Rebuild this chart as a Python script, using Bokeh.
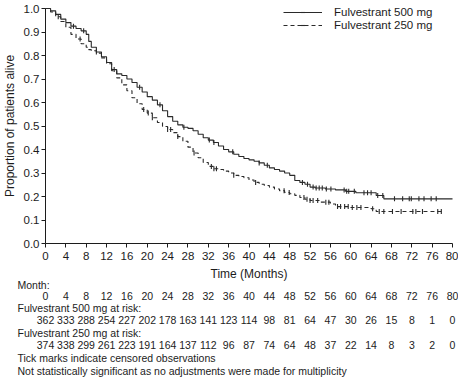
import numpy as np
from bokeh.plotting import figure
from bokeh.models import Range1d, FixedTicker, PrintfTickFormatter, Legend, LegendItem
from bokeh.embed import file_html
from bokeh.resources import INLINE
from bokeh.core.properties import value

# ---------------- data ----------------
t500 = [0, 1, 2, 3, 4, 5, 6, 7, 8, 8.5, 9, 10, 11, 12, 13, 14, 15, 16, 17, 18, 19, 20,
        21, 22, 23, 24, 25, 26, 27, 28, 29, 30, 31, 32, 33, 34, 35, 36, 37, 38, 39, 40,
        41, 42, 43, 44, 45, 46, 47, 48, 49, 50, 51, 52, 53, 55, 57, 59, 61, 65, 66.5]
s500 = [1.0, 0.99, 0.975, 0.955, 0.94, 0.925, 0.915, 0.905, 0.89, 0.86,
        0.835, 0.815, 0.795, 0.77, 0.74, 0.722, 0.715, 0.70, 0.685, 0.665, 0.645, 0.625,
        0.61, 0.59, 0.565, 0.54, 0.52, 0.505, 0.495, 0.49, 0.48, 0.465, 0.45, 0.44, 0.43,
        0.415, 0.40, 0.39, 0.38, 0.37, 0.362, 0.356, 0.35, 0.343, 0.333, 0.322, 0.315,
        0.308, 0.30, 0.29, 0.268, 0.26, 0.252, 0.24, 0.236,
        0.232, 0.228, 0.222, 0.216, 0.204, 0.19]
last500 = 80.0

t250 = [0, 1, 2, 3, 4, 5, 6, 7, 8, 8.5, 9, 10, 11, 12, 13, 14, 15, 16, 17, 18, 19, 20,
        21, 22, 23, 24, 25, 26, 27, 28, 29, 30, 31, 32, 33, 34, 35, 36, 37, 38, 39, 40,
        41, 42, 43, 44, 45, 46, 47, 48, 49, 50, 51, 52, 54, 56, 57, 60, 64, 65]
s250 = [1.0, 0.985, 0.965, 0.945, 0.92, 0.89, 0.87, 0.85, 0.835, 0.825,
        0.82, 0.81, 0.79, 0.765, 0.735, 0.705, 0.675, 0.65, 0.62, 0.595, 0.57, 0.555,
        0.535, 0.515, 0.498, 0.485, 0.472, 0.455, 0.435, 0.41, 0.385, 0.365, 0.345, 0.328,
        0.318, 0.315, 0.308, 0.30, 0.29, 0.285, 0.28, 0.27, 0.26, 0.252, 0.247, 0.24,
        0.232, 0.225, 0.217, 0.212, 0.205, 0.196, 0.188, 0.183,
        0.176, 0.168, 0.157, 0.153, 0.148, 0.136]
last250 = 78.2

cens500 = [5.5, 7.5, 10, 13.5, 18.5, 22.5, 27.2, 32.2, 33.1, 36.8, 42.0, 43.6, 50.5, 51.5,
           52.6, 53.2, 53.8, 54.4, 55.2, 56.1, 58.7, 59.2, 59.6, 60.7, 62.6, 63.3, 64.0,
           65.3, 66.3, 68.6, 70.2, 71.5, 71.9, 73.4, 74.4, 75.8, 76.8]
cens250 = [2.5, 6.8, 19.3, 20.2, 21.0, 24.0, 24.6, 26.0, 29.2, 32.6, 33.1, 33.6, 37.0,
           41.3, 46.9, 47.9, 50.8, 51.4, 52.0, 52.6, 53.5, 55.1, 55.7, 57.4, 58.0, 58.8,
           59.5, 60.3, 61.2, 62.0, 64.3, 65.6, 66.5, 68.2, 69.9, 72.2, 72.8, 74.1, 77.1, 77.8]

months = list(range(0, 81, 4))
risk500 = [362, 333, 288, 254, 227, 202, 178, 163, 141, 123, 114, 98, 81, 64, 47, 30, 26, 15, 8, 1, 0]
risk250 = [374, 338, 299, 261, 223, 191, 164, 137, 112, 96, 87, 74, 64, 48, 37, 22, 14, 8, 3, 2, 0]

label500 = "Fulvestrant 500 mg"
label250 = "Fulvestrant 250 mg"
x_title = "Time (Months)"
y_title = "Proportion of patients alive"
row_titles = ["Month:", "Fulvestrant 500 mg at risk:", "Fulvestrant 250 mg at risk:",
              "Tick marks indicate censored observations",
              "Not statistically significant as no adjustments were made for multiplicity"]

# ---------------- style / layout (pixels inside the canvas) ----------------
FONT = "Liberation Sans"
INK = "#1c1c1c"
LINE = "#2a2a2a"
W, H = 458, 378
X0_PX, X80_PX = 45, 452        # canvas x of month 0 and month 80
Y0_PX, Y1_PX = 243, 8          # canvas y of proportion 0 and 1
XMAX = 80.0
pxpm = (X80_PX - X0_PX) / XMAX
pxpu = (Y0_PX - Y1_PX) / 1.0

x_range = Range1d(-X0_PX / pxpm, (W - X0_PX) / pxpm)
y_range = Range1d(-(H - Y0_PX) / pxpu, Y0_PX / pxpu)

p = figure(width=W, height=H, x_range=x_range, y_range=y_range, title=None,
           output_backend="svg", toolbar_location=None, min_border=0,
           min_border_left=0, min_border_right=0, min_border_top=0, min_border_bottom=0)
p.outline_line_color = None
p.grid.visible = False
p.background_fill_color = "white"
p.border_fill_color = "white"

for ax in (p.xaxis[0], p.yaxis[0]):
    ax.fixed_location = 0
    ax.axis_line_color = INK
    ax.major_tick_line_color = INK
    ax.major_tick_in = 0
    ax.major_tick_out = 4
    ax.minor_tick_line_color = None
    ax.major_label_text_font = FONT
    ax.major_label_text_font_size = "11.5px"
    ax.major_label_text_color = INK
    ax.axis_label_text_font = FONT
    ax.axis_label_text_font_size = "12px"
    ax.axis_label_text_font_style = "normal"
    ax.axis_label_text_color = INK

p.xaxis.bounds = (0, XMAX)
p.xaxis.ticker = FixedTicker(ticks=months)
p.xaxis.major_label_standoff = 4
p.xaxis.axis_label = x_title
p.xaxis.axis_label_standoff = 4
p.yaxis.bounds = (0, 1)
p.yaxis.ticker = FixedTicker(ticks=[i / 10 for i in range(11)])
p.yaxis.formatter = PrintfTickFormatter(format="%.1f")
p.yaxis.major_label_standoff = 2
p.yaxis.axis_label = y_title
p.yaxis.axis_label_standoff = 4


def step_xy(t, s, last):
    return list(t) + [last], list(s) + [s[-1]]


def surv_at(t, s, c):
    t = np.asarray(t, float)
    s = np.asarray(s, float)
    idx = np.searchsorted(t, np.asarray(c, float), side="right") - 1
    return s[idx]


x5, y5 = step_xy(t500, s500, last500)
x2, y2 = step_xy(t250, s250, last250)

l500 = p.step(x5, y5, mode="after", line_color=LINE, line_width=1.1)
l250 = p.step(x2, y2, mode="after", line_color=LINE, line_width=1.1, line_dash="4 3")
c500 = p.scatter(cens500, surv_at(t500, s500, cens500), marker="dash", angle=np.pi / 2,
                 size=5, line_color=LINE, line_width=1.1)
c250 = p.scatter(cens250, surv_at(t250, s250, cens250), marker="dash", angle=np.pi / 2,
                 size=5, line_color=LINE, line_width=1.1)

legend = Legend(items=[LegendItem(label=label500, renderers=[l500, c500]),
                       LegendItem(label=label250, renderers=[l250, c250])],
                location="top_right", margin=6, padding=0, spacing=1,
                glyph_width=39, glyph_height=12, label_height=12, label_width=118,
                label_standoff=12, label_text_font=FONT, label_text_font_size="11.5px",
                label_text_color=INK, background_fill_alpha=0, border_line_color=None)
p.add_layout(legend)

# ---------------- at-risk table (below the axis) ----------------
ROW_PX = [284, 295, 307, 319, 332, 344, 357, 370]   # canvas y of each table row
row_y = [(Y0_PX - py) / pxpu for py in ROW_PX]
x_left = (17 - X0_PX) / pxpm
TS = "10.5px"

p.text(x=[x_left] * 5, y=[row_y[0], row_y[2], row_y[4], row_y[6], row_y[7]],
       text=row_titles, text_font=value(FONT), text_font_size=value(TS),
       text_align="left", text_baseline="middle", text_color=INK)
for vals, yy in ((months, row_y[1]), (risk500, row_y[3]), (risk250, row_y[5])):
    p.text(x=months, y=[yy] * len(months), text=[str(v) for v in vals],
           text_font=value(FONT), text_font_size=value(TS), text_align="center",
           text_baseline="middle", text_color=INK)

open("out.html", "w").write(file_html(p, INLINE))
